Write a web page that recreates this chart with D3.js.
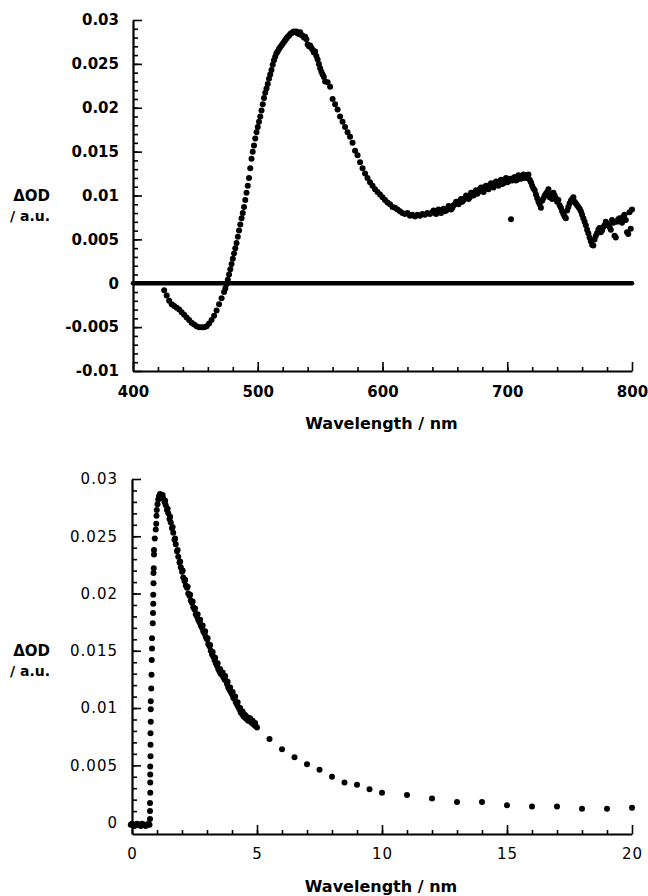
<!DOCTYPE html>
<html>
<head>
<meta charset="utf-8">
<script src="https://cdn.jsdelivr.net/npm/d3@7"></script>
<style>
  body { margin: 0; background: #fff; }
  svg text { font-family: "DejaVu Sans", sans-serif; fill: #000; }
</style>
</head>
<body>
<svg id="chart" width="648" height="896"></svg>
<script>
// ---- top panel: transient spectrum ----
const topWavelength = [
  425, 427, 429, 431, 433, 435, 437, 439, 441, 443, 445, 447, 449, 451, 453, 455, 457, 459, 461, 463,
  465, 467, 469, 471, 473, 474, 475, 476, 477, 478, 479, 480, 481, 482, 483, 484, 485, 486, 487, 488,
  489, 490, 491, 492, 493, 494, 495, 496, 497, 498, 499, 500, 501, 502, 503, 504, 505, 506, 507, 508,
  509, 510, 511, 512, 513, 514, 515, 516, 517, 518, 519, 520, 521, 522, 523, 524, 525, 526, 527, 528,
  529, 530, 531, 532, 533, 534, 535, 536, 537, 538, 539, 540, 541, 542, 543, 544, 545, 546, 547, 548,
  549, 550, 551, 552, 553, 554, 556, 558, 560, 562, 564, 566, 568, 570, 572, 574, 576, 578, 580, 582,
  584, 586, 588, 590, 592, 594, 596, 598, 600, 602, 604, 606, 608, 610, 612, 614, 616, 618, 620, 622,
  624, 626, 628, 630, 632, 634, 636, 638, 640, 642, 644, 646, 648, 650, 652, 654, 656, 658, 660, 662,
  664, 666, 668, 670, 672, 674, 676, 678, 680, 682, 684, 686, 688, 690, 692, 694, 696, 698, 700, 702,
  703, 704, 706, 708, 710, 712, 714, 716, 718, 720, 722, 724, 726, 728, 730, 732, 734, 736, 738, 740,
  742, 744, 746, 748, 750, 752, 754, 756, 758, 760, 762, 764, 766, 768, 769, 770, 772, 774, 776, 778,
  780, 782, 784, 786, 788, 790, 792, 794, 796, 798, 799, 800,
  // odd wavelengths of the noisy red part
  641, 643, 645, 647, 649, 651, 653, 655, 657, 659, 661, 663, 665, 667, 669, 671, 673, 675, 677, 679,
  681, 683, 685, 687, 689, 691, 693, 695, 697, 699, 701, 705, 707, 709, 711, 713, 715, 717, 719, 721,
  723, 725, 727, 729, 731, 733, 735, 737, 739, 741, 743, 745, 747, 749, 751, 753, 755, 757, 759, 761,
  763, 765, 767, 771, 773, 775, 777, 779, 781, 783, 785, 787, 789, 791, 793, 795, 797
];
const topOD = [
  -0.0008, -0.0014, -0.0020, -0.0024, -0.0026, -0.0028, -0.0030, -0.0033, -0.0036, -0.0039, -0.0042, -0.0045, -0.0047, -0.0049, -0.0050, -0.0050, -0.0050, -0.0049, -0.0046, -0.0042,
  -0.0037, -0.0031, -0.0024, -0.0017, -0.0010, -0.0006, -0.0001, 0.0004, 0.0010, 0.0016, 0.0022, 0.0028, 0.0034, 0.0040, 0.0046, 0.0053, 0.0060, 0.0067, 0.0074, 0.0080,
  0.0087, 0.0095, 0.0103, 0.0111, 0.0120, 0.0131, 0.0142, 0.0150, 0.0157, 0.0165, 0.0172, 0.0178, 0.0184, 0.0190, 0.0197, 0.0204, 0.0211, 0.0217, 0.0222, 0.0227,
  0.0233, 0.0238, 0.0243, 0.0249, 0.0254, 0.0258, 0.0262, 0.0264, 0.0267, 0.0269, 0.0271, 0.0273, 0.0275, 0.0277, 0.0279, 0.0281, 0.0282, 0.0284, 0.0285, 0.0286,
  0.0287, 0.0286, 0.0287, 0.0285, 0.0284, 0.0286, 0.0283, 0.0282, 0.0280, 0.0281, 0.0278, 0.0272, 0.0270, 0.0271, 0.0268, 0.0266, 0.0263, 0.0264, 0.0259, 0.0255,
  0.0250, 0.0245, 0.0241, 0.0238, 0.0235, 0.0230, 0.0229, 0.0224, 0.0210, 0.0204, 0.0198, 0.0190, 0.0184, 0.0178, 0.0172, 0.0167, 0.0160, 0.0151, 0.0146, 0.0138,
  0.0131, 0.0125, 0.0120, 0.0115, 0.0111, 0.0107, 0.0104, 0.0101, 0.0098, 0.0095, 0.0092, 0.0090, 0.0087, 0.0086, 0.0084, 0.0082, 0.0080, 0.0079, 0.0080, 0.0077,
  0.0078, 0.0076, 0.0078, 0.0077, 0.0079, 0.0078, 0.0080, 0.0079, 0.0081, 0.0080, 0.0082, 0.0081, 0.0083, 0.0082, 0.0084, 0.0087, 0.0086, 0.0090, 0.0092, 0.0094,
  0.0093, 0.0097, 0.0099, 0.0098, 0.0102, 0.0104, 0.0102, 0.0107, 0.0106, 0.0110, 0.0108, 0.0112, 0.0110, 0.0114, 0.0112, 0.0116, 0.0113, 0.0117, 0.0115, 0.0119,
  0.0073, 0.0117, 0.0121, 0.0118, 0.0122, 0.0120, 0.0123, 0.0122, 0.0118, 0.0111, 0.0106, 0.0097, 0.0090, 0.0094, 0.0100, 0.0104, 0.0098, 0.0096, 0.0100, 0.0093,
  0.0089, 0.0082, 0.0076, 0.0083, 0.0091, 0.0096, 0.0093, 0.0089, 0.0085, 0.0078, 0.0070, 0.0061, 0.0052, 0.0044, 0.0043, 0.0050, 0.0057, 0.0063, 0.0060, 0.0066,
  0.0068, 0.0064, 0.0072, 0.0054, 0.0070, 0.0074, 0.0069, 0.0078, 0.0058, 0.0081, 0.0062, 0.0084,
  0.0083, 0.0079, 0.0084, 0.0080, 0.0085, 0.0083, 0.0088, 0.0084, 0.0089, 0.0093, 0.0090, 0.0096, 0.0095, 0.0100, 0.0096, 0.0103, 0.0100, 0.0106, 0.0104, 0.0109,
  0.0104, 0.0111, 0.0107, 0.0114, 0.0109, 0.0116, 0.0111, 0.0118, 0.0114, 0.0120, 0.0116, 0.0120, 0.0117, 0.0123, 0.0119, 0.0124, 0.0120, 0.0124, 0.0115, 0.0108,
  0.0101, 0.0093, 0.0086, 0.0097, 0.0102, 0.0107, 0.0101, 0.0103, 0.0097, 0.0095, 0.0086, 0.0079, 0.0074, 0.0087, 0.0094, 0.0098, 0.0091, 0.0087, 0.0082, 0.0074,
  0.0066, 0.0057, 0.0048, 0.0054, 0.0061, 0.0058, 0.0064, 0.0070, 0.0066, 0.0061, 0.0069, 0.0052, 0.0073, 0.0071, 0.0076, 0.0072, 0.0056
];
const topBaselineX = [400, 800];
const topBaselineY = [0, 0];
const topXTicks = [400, 500, 600, 700, 800];
const topXTickLabels = ["400", "500", "600", "700", "800"];
const topYTicks = [-0.01, -0.005, 0, 0.005, 0.01, 0.015, 0.02, 0.025, 0.03];
const topYTickLabels = ["-0.01", "-0.005", "0", "0.005", "0.01", "0.015", "0.02", "0.025", "0.03"];

// ---- bottom panel: kinetic trace ----
const bottomTime = [
  -0.05, 0, 0.05, 0.1, 0.15, 0.2, 0.25, 0.3, 0.35, 0.4, 0.45, 0.5, 0.55, 0.6, 0.65, 0.7,
  0.72, 0.72, 0.72, 0.73, 0.73, 0.73, 0.73, 0.74, 0.74, 0.74, 0.75, 0.75, 0.75, 0.77, 0.78, 0.79, 0.80, 0.80, 0.83, 0.84,
  0.85, 0.85, 0.86, 0.86, 0.87, 0.88, 0.88, 0.91, 0.95, 0.97, 0.98, 0.99, 1.02, 1.05, 1.08, 1.12, 1.16,
  1.20, 1.25, 1.30, 1.35, 1.40, 1.45, 1.50, 1.55, 1.60, 1.65, 1.70, 1.75, 1.80, 1.85, 1.90, 1.95,
  2.00, 2.05, 2.10, 2.15, 2.20, 2.25, 2.30, 2.35, 2.40, 2.45, 2.50, 2.55, 2.60, 2.65, 2.70, 2.75,
  2.80, 2.85, 2.90, 2.95, 3.00, 3.05, 3.10, 3.15, 3.20, 3.25, 3.30, 3.35, 3.40, 3.45, 3.50, 3.55,
  3.60, 3.65, 3.70, 3.75, 3.80, 3.85, 3.90, 3.95, 4.00, 4.05, 4.10, 4.15, 4.20, 4.25, 4.30, 4.35,
  4.40, 4.45, 4.50, 4.55, 4.60, 4.65, 4.70, 4.75, 4.80, 4.85, 4.90, 4.95, 5.00,
  5.5, 6, 6.5, 7, 7.5, 8, 8.5, 9, 9.5, 10, 11, 12, 13, 14, 15, 16, 17, 18, 19, 20,
  // second scan, slightly above the first along the decay
  1.225, 1.325, 1.425, 1.525, 1.625, 1.725, 1.825, 1.925, 2.025, 2.125, 2.225, 2.325, 2.425,
  2.525, 2.625, 2.725, 2.825, 2.925, 3.025, 3.125, 3.225, 3.325, 3.425, 3.525, 3.625, 3.725,
  3.825, 3.925, 4.025, 4.125, 4.225, 4.325, 4.425, 4.525, 4.625, 4.725, 4.825, 4.925
];
const bottomOD = [
  -0.0002, -0.0001, -0.0002, -0.0003, -0.0002, -0.0001, -0.0002, -0.0002, -0.0003, -0.0001, -0.0002, -0.0002, -0.0003, -0.0002, -0.0001, -0.0002,
  0.0003, 0.0010, 0.0017, 0.0026, 0.0035, 0.0042, 0.0049, 0.0058, 0.0068, 0.0078, 0.0088, 0.0099, 0.0106, 0.0117, 0.0129, 0.0142, 0.0152, 0.0161, 0.0174, 0.0183,
  0.0191, 0.0199, 0.0209, 0.0218, 0.0222, 0.0234, 0.0238, 0.0248, 0.0256, 0.0261, 0.0268, 0.0273, 0.0278, 0.0282, 0.0285, 0.0287, 0.0286,
  0.0285, 0.0283, 0.0280, 0.0277, 0.0273, 0.0270, 0.0265, 0.0262, 0.0257, 0.0253, 0.0247, 0.0243, 0.0237, 0.0232, 0.0227, 0.0223,
  0.0219, 0.0214, 0.0211, 0.0207, 0.0205, 0.0200, 0.0198, 0.0194, 0.0192, 0.0188, 0.0186, 0.0182, 0.0180, 0.0177, 0.0175, 0.0172,
  0.0170, 0.0167, 0.0165, 0.0162, 0.0160, 0.0156, 0.0154, 0.0150, 0.0147, 0.0145, 0.0142, 0.0139, 0.0137, 0.0134, 0.0132, 0.0130,
  0.0129, 0.0127, 0.0125, 0.0124, 0.0121, 0.0118, 0.0116, 0.0114, 0.0112, 0.0109, 0.0108, 0.0105, 0.0103, 0.0101, 0.0099, 0.0096,
  0.0095, 0.0093, 0.0092, 0.0091, 0.0090, 0.0089, 0.0089, 0.0088, 0.0087, 0.0086, 0.0085, 0.0084, 0.0083,
  0.0073, 0.0064, 0.0057, 0.0051, 0.0046, 0.0040, 0.0035, 0.0033, 0.0029, 0.0026, 0.0024, 0.0021, 0.0018, 0.0018, 0.0015, 0.0014, 0.0014, 0.0012, 0.0012, 0.0013,
  0.0286, 0.0281, 0.0274, 0.0267, 0.0258, 0.0248, 0.0238, 0.0228, 0.0220, 0.0212, 0.0206, 0.0199, 0.0193,
  0.0187, 0.0182, 0.0177, 0.0172, 0.0167, 0.0161, 0.0155, 0.0149, 0.0144, 0.0139, 0.0134, 0.0131, 0.0128,
  0.0123, 0.0118, 0.0114, 0.0110, 0.0105, 0.0100, 0.0097, 0.0094, 0.0092, 0.0091, 0.0089, 0.0087
];
const bottomXTicks = [0, 5, 10, 15, 20];
const bottomXTickLabels = ["0", "5", "10", "15", "20"];
const bottomYTicks = [0, 0.005, 0.01, 0.015, 0.02, 0.025, 0.03];
const bottomYTickLabels = ["0", "0.005", "0.01", "0.015", "0.02", "0.025", "0.03"];

const svg = d3.select("#chart");

// draws one panel: axes with inward ticks, dots, optional thick baseline
function drawPanel(p) {
  const x = d3.scaleLinear().domain(p.xDomain).range(p.xRange);
  const y = d3.scaleLinear().domain(p.yDomain).range(p.yRange);
  const g = svg.append("g");
  const x0 = p.xRange[0], yBottom = p.yRange[0];

  // minor ticks first so the major axis sits on top
  const xMinor = g.append("g").attr("transform", `translate(0,${yBottom})`)
    .call(d3.axisBottom(x).tickValues(p.xMinor).tickSize(-4).tickSizeOuter(0).tickFormat(""));
  xMinor.select(".domain").remove();
  const yMinor = g.append("g").attr("transform", `translate(${x0},0)`)
    .call(d3.axisLeft(y).tickValues(p.yMinor).tickSize(-5).tickSizeOuter(0).tickFormat(""));
  yMinor.select(".domain").remove();

  const xAxis = g.append("g").attr("transform", `translate(0,${yBottom})`)
    .call(d3.axisBottom(x).tickValues(p.xTicks).tickSize(-9).tickSizeOuter(0)
      .tickPadding(p.xPad).tickFormat((d, i) => p.xTickLabels[i]));
  const yAxis = g.append("g").attr("transform", `translate(${x0},0)`)
    .call(d3.axisLeft(y).tickValues(p.yTicks).tickSize(-9).tickSizeOuter(0)
      .tickPadding(14).tickFormat((d, i) => p.yTickLabels[i]));

  [xMinor, yMinor, xAxis, yAxis].forEach(a => a.selectAll(".tick line").attr("stroke", "#000").attr("stroke-width", 1.6));
  [xAxis, yAxis].forEach(a => {
    a.select(".domain").attr("stroke", "#000").attr("stroke-width", 2.2);
    a.selectAll("text")
      .style("font-family", '"DejaVu Sans", sans-serif')
      .style("font-size", p.tickFont + "px")
      .style("font-weight", p.tickWeight)
      .style("letter-spacing", p.tickSpacing + "px")
      .attr("fill", "#000");
  });

  if (p.baseX) {
    g.append("path")
      .datum(p.baseX.map((d, i) => [d, p.baseY[i]]))
      .attr("fill", "none").attr("stroke", "#000").attr("stroke-width", 4.6).attr("stroke-linecap", "round")
      .attr("d", d3.line().x(d => x(d[0])).y(d => y(d[1])));
  }

  g.append("g").selectAll("circle")
    .data(p.xs.map((d, i) => [d, p.ys[i]]))
    .enter().append("circle")
    .attr("cx", d => x(d[0]))
    .attr("cy", d => y(d[1]))
    .attr("r", p.r)
    .attr("fill", "#000");

  // axis titles
  g.append("text")
    .attr("x", (p.xRange[0] + p.xRange[1]) / 2 - 1)
    .attr("y", p.titleY)
    .attr("text-anchor", "middle")
    .style("font-size", "16px").style("font-weight", "bold")
    .text("Wavelength / nm");
  g.append("text")
    .attr("x", 50).attr("y", p.yLabelY)
    .attr("text-anchor", "end")
    .style("font-size", "15px").style("font-weight", "bold")
    .text("ΔOD");
  g.append("text")
    .attr("x", 50).attr("y", p.yLabelY + 20)
    .attr("text-anchor", "end")
    .style("font-size", "14px").style("font-weight", "bold")
    .text("/ a.u.");
}

drawPanel({
  xDomain: [400, 800], xRange: [133, 632],
  yDomain: [-0.01, 0.03], yRange: [371, 20],
  xTicks: topXTicks, xTickLabels: topXTickLabels, xMinor: d3.range(420, 800, 20),
  yTicks: topYTicks, yTickLabels: topYTickLabels, yMinor: d3.range(-9, 30).map(k => k / 1000),
  xPad: 15, tickFont: 15, tickWeight: "bold", tickSpacing: 0,
  xs: topWavelength, ys: topOD, r: 3,
  baseX: topBaselineX, baseY: topBaselineY,
  titleY: 429, yLabelY: 201
});

drawPanel({
  xDomain: [0, 20], xRange: [132, 632],
  yDomain: [-0.001, 0.03], yRange: [834, 479],
  xTicks: bottomXTicks, xTickLabels: bottomXTickLabels, xMinor: d3.range(1, 20, 1),
  yTicks: bottomYTicks, yTickLabels: bottomYTickLabels, yMinor: d3.range(1, 30).map(k => k / 1000),
  xPad: 14, tickFont: 15, tickWeight: "normal", tickSpacing: 1,
  xs: bottomTime, ys: bottomOD, r: 3,
  titleY: 892, yLabelY: 656
});
</script>
</body>
</html>
